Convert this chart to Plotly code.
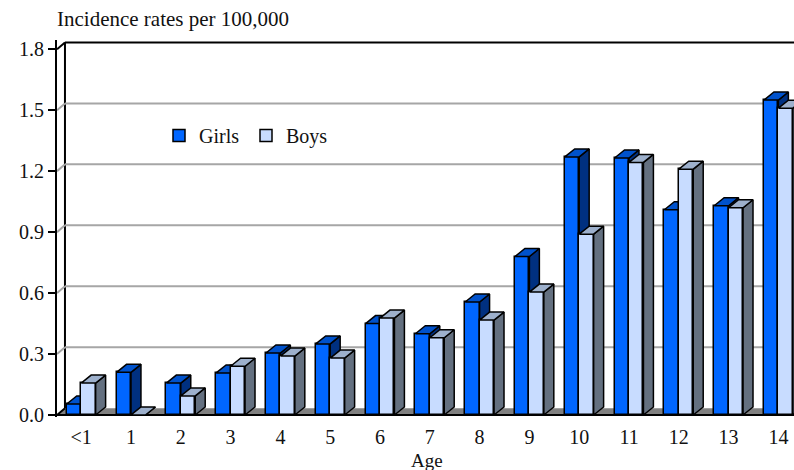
import plotly.graph_objects as go

ages = ["<1", "1", "2", "3", "4", "5", "6", "7", "8", "9", "10", "11", "12", "13", "14"]
girls = [0.054, 0.21, 0.157, 0.207, 0.305, 0.35, 0.45, 0.40, 0.556, 0.78, 1.27, 1.265, 1.01, 1.03, 1.55]
boys = [0.157, 0.0, 0.094, 0.24, 0.29, 0.28, 0.477, 0.38, 0.467, 0.605, 0.89, 1.243, 1.21, 1.02, 1.51]
y_ticks = [0.0, 0.3, 0.6, 0.9, 1.2, 1.5, 1.8]

FONT = "Liberation Serif"
X_RANGE = [-0.486, 14.313]
Y_RANGE = [-0.0098, 1.8455]
BAR_W = 0.29
BAR_DX, BAR_DY = 0.20, 0.0394
WALL_DX, WALL_DY = 0.16, 0.0335
xs = list(range(len(ages)))


def faces(values, offset):
    side_x, side_y, top_x, top_y = [], [], [], []
    for x, v in zip(xs, values):
        l, r = x + offset, x + offset + BAR_W
        side_x += [r, r + BAR_DX, r + BAR_DX, r, r, None]
        side_y += [0, BAR_DY, v + BAR_DY, v, 0, None]
        top_x += [l, l + BAR_DX, r + BAR_DX, r, l, None]
        top_y += [v, v + BAR_DY, v + BAR_DY, v, v, None]
    return side_x, side_y, top_x, top_y


def add_series(fig, name, values, offset, front, top, side, xa, ya):
    fig.add_trace(go.Bar(
        x=xs, y=values, name=name, width=BAR_W, offset=offset, xaxis=xa, yaxis=ya,
        marker=dict(color=front, line=dict(color="black", width=1.5)), cliponaxis=False,
    ))
    sx, sy, tx, ty = faces(values, offset)
    for px, py, col in ((sx, sy, side), (tx, ty, top)):
        fig.add_trace(go.Scatter(
            x=px, y=py, mode="lines", fill="toself", fillcolor=col, xaxis=xa, yaxis=ya,
            line=dict(color="black", width=1.5), showlegend=False, hoverinfo="skip",
        ))


fig = go.Figure()
add_series(fig, "Girls", girls, -BAR_W, "#0066FF", "#0052CC", "#003080", "x", "y")
add_series(fig, "Boys", boys, 0, "#C8DCFF", "#9DB0CC", "#647080", "x2", "y2")

x0, x1 = X_RANGE
shapes = [
    dict(type="path", xref="x", yref="y", layer="below", fillcolor="#808080", line=dict(width=0),
         path=f"M{x0},0 L{x0 + WALL_DX},{WALL_DY} L{x1 + 1},{WALL_DY} L{x1 + 1},0 Z"),
    dict(type="line", xref="x", yref="y", layer="below", line=dict(color="black", width=2),
         x0=x0 + WALL_DX, x1=x0 + WALL_DX, y0=WALL_DY, y1=y_ticks[-1] + WALL_DY),
    dict(type="line", xref="x", yref="y", layer="below", line=dict(color="black", width=2),
         x0=x0, x1=x1, y0=0, y1=0),
]
for t in y_ticks:
    last = t == y_ticks[-1]
    col = "black" if last else "#A6A6A6"
    if t > 0:
        shapes.append(dict(type="line", xref="x", yref="y", layer="below", line=dict(color=col, width=2),
                           x0=x0 + WALL_DX, x1=x1, y0=t + WALL_DY, y1=t + WALL_DY))
    shapes.append(dict(type="line", xref="x", yref="y", layer="below",
                       line=dict(color="black" if last or t == 0 else "#A6A6A6", width=2),
                       x0=x0, x1=x0 + WALL_DX, y0=t, y1=t + WALL_DY))

fig.update_layout(
    width=794, height=470, autosize=False,
    margin=dict(l=57, r=0, t=40, b=53, autoexpand=False),
    paper_bgcolor="white", plot_bgcolor="white",
    font=dict(family=FONT, size=20, color="#111111"),
    barmode="overlay", bargap=0, shapes=shapes, hovermode=False,
    xaxis=dict(range=X_RANGE, tickmode="array", tickvals=xs, ticktext=ages, ticks="",
               showgrid=False, zeroline=False, showline=False, tickfont=dict(size=20), ticklabelstandoff=6),
    yaxis=dict(range=Y_RANGE, tickmode="array", tickvals=y_ticks, ticktext=[f"{t:.1f}" for t in y_ticks],
               ticks="outside", ticklen=7, tickwidth=2, tickcolor="black", showgrid=False, zeroline=False,
               showline=True, linecolor="black", linewidth=2, tickfont=dict(size=20)),
    xaxis2=dict(range=X_RANGE, overlaying="x", visible=False),
    yaxis2=dict(range=Y_RANGE, overlaying="y", visible=False),
    legend=dict(orientation="h", x=(159 - 57) / 737, xref="paper", y=1 - (116 - 40) / 377, yref="paper",
                xanchor="left", yanchor="top", bgcolor="rgba(0,0,0,0)", font=dict(size=20),
                itemwidth=30, entrywidth=42, entrywidthmode="pixels", traceorder="normal"),
    annotations=[
        dict(text="Incidence rates per 100,000", xref="paper", yref="paper", x=0, y=1, xshift=-2, yshift=21,
             xanchor="left", yanchor="middle", showarrow=False, font=dict(size=21)),
        dict(text="Age", xref="paper", yref="paper", x=(427 - 57) / 737, y=0, yshift=-43,
             xanchor="center", yanchor="middle", showarrow=False, font=dict(size=19)),
    ],
)
fig.write_html("out.html", config={"displayModeBar": False},
               post_script="document.body.style.margin='0';document.documentElement.style.overflow='hidden';")
